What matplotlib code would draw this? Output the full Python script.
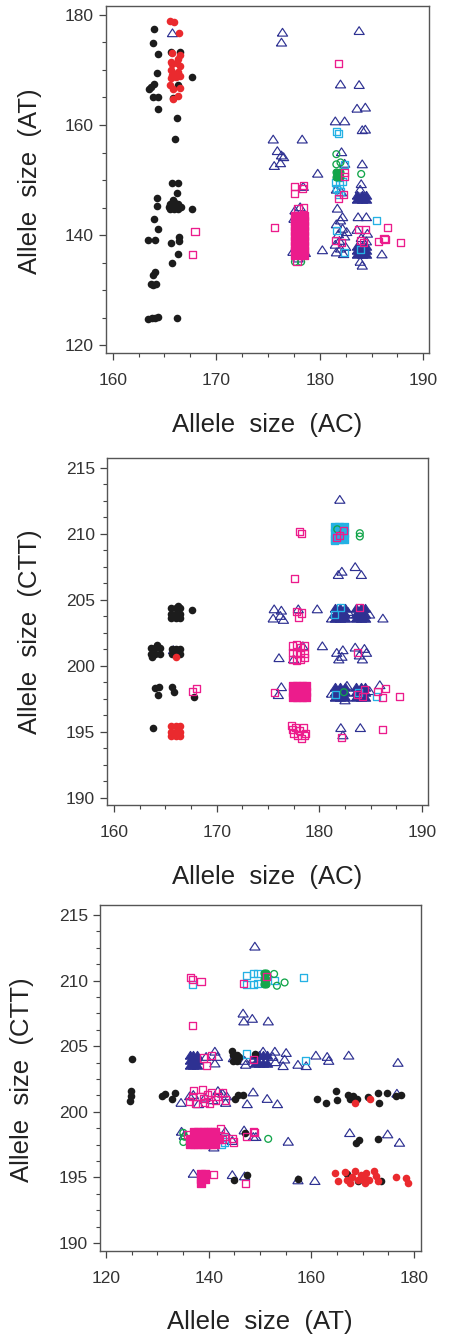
import numpy as np
import matplotlib
matplotlib.use('Agg')
import matplotlib.pyplot as plt
from matplotlib.ticker import MultipleLocator

plt.rcParams['font.family'] = ['Liberation Sans', 'DejaVu Sans']

# ---------------- Panel 1 : AC (x) vs AT (y) ----------------
p1_black = [
    (164.0, 177.5), (163.9, 174.8), (164.4, 172.9), (164.25, 169.4), (163.7, 166.9), (164.0, 167.4),
    (163.5, 166.6), (163.9, 165.0), (164.4, 165.0), (164.4, 162.9), (165.6, 173.3), (166.5, 173.3),
    (166.3, 167.3), (165.8, 164.9), (166.2, 161.2), (166.0, 157.5), (167.7, 168.7),
    (165.7, 149.4), (166.34, 149.4), (166.18, 147.7), (165.86, 146.4), (167.63, 144.7),
    (165.55, 145.6), (165.95, 145.6), (166.35, 145.6), (165.55, 144.7), (165.95, 144.7), (166.35, 144.7),
    (165.45, 145.1), (166.6, 145.1), (165.9, 146.0),
    (164.25, 146.8), (164.25, 145.3), (164.0, 143.0), (164.4, 141.1), (163.44, 139.2), (164.09, 139.1),
    (165.6, 138.6), (166.4, 139.7), (166.4, 139.0), (166.34, 136.55), (165.76, 134.85),
    (164.09, 133.3), (163.93, 132.7), (163.67, 131.1), (164.18, 131.2), (163.9, 130.9),
    (163.45, 124.8), (163.75, 124.9), (164.05, 125.0), (164.35, 125.05), (166.24, 125.0),
]
p1_red = [
    (165.54, 178.8), (165.93, 178.7), (166.41, 176.7), (165.70, 173.0), (166.51, 172.7), (165.60, 171.5),
    (166.18, 171.2), (166.51, 170.7), (165.60, 170.0), (165.93, 169.3), (166.35, 169.7), (166.51, 168.9),
    (165.60, 168.5), (166.10, 168.7), (165.54, 167.3), (166.51, 166.7), (165.86, 166.5), (166.35, 165.3),
    (165.80, 164.7), (165.75, 171.0), (166.3, 172.0), (165.7, 169.0),
]
p1_navy = [
    (165.77, 176.7), (176.4, 176.8), (176.3, 175.0), (183.8, 177.1), (182.0, 167.4), (183.8, 167.3),
    (183.6, 163.0), (184.4, 163.2), (181.5, 160.7), (182.4, 160.7), (184.1, 159.1), (184.4, 159.2),
    (175.5, 157.4), (178.3, 157.4), (175.9, 155.3), (176.3, 154.5), (176.5, 154.2), (175.6, 152.6),
    (176.2, 153.1), (179.8, 151.2), (182.1, 155.1), (182.4, 153.0), (184.1, 152.9), (184.0, 149.3),
    (178.4, 148.8), (181.7, 144.85), (182.2, 143.3), (182.0, 142.7), (183.7, 143.3), (184.5, 143.3),
    (177.6, 144.5), (178.1, 145.1), (180.25, 137.3), (186.0, 136.55), (182.1, 147.8), (181.6, 148.3),
    (181.6, 142.0), (182.2, 141.2), (181.8, 140.2), (182.4, 139.8), (181.5, 138.3), (182.0, 137.6),
    (182.5, 137.9), (181.6, 136.9), (182.3, 136.6), (181.9, 139.0), (182.6, 140.6),
    (183.6, 141.0), (184.6, 140.3), (184.0, 139.5), (184.5, 138.9), (183.9, 135.2), (184.1, 134.5),
    (177.5, 143.0), (178.3, 143.5), (177.4, 137.0), (178.6, 136.8), (177.9, 135.8), (183.9, 148.3),
]
p1_navy_dense = [
    (183.6, 147.3), (184.05, 147.3), (184.5, 147.3), (183.6, 146.6), (184.05, 146.6), (184.5, 146.6),
    (183.6, 138.1), (184.05, 138.1), (184.5, 138.1), (183.6, 137.3), (184.05, 137.3), (184.5, 137.3),
    (183.6, 136.6), (184.05, 136.6), (184.5, 136.6),
]
p1_cyan = [
    (181.6, 158.8), (181.8, 158.5), (182.35, 152.9), (181.5, 149.6), (181.9, 149.2), (182.2, 149.7),
    (181.6, 148.5), (182.0, 148.0), (181.8, 147.4), (185.5, 142.7), (181.6, 140.8), (182.4, 136.85),
    (183.9, 137.4),
]
p1_green = [
    (181.6, 154.7), (181.6, 152.85), (182.0, 153.2), (184.0, 151.1), (177.6, 135.15), (178.2, 135.15),
]
p1_green_dense = [(181.6, 151.5), (182.0, 151.5), (181.6, 150.6), (182.0, 150.6)]
p1_magenta = [
    (181.8, 171.1), (177.6, 148.8), (177.6, 147.6), (178.4, 149.0), (178.3, 148.5), (177.9, 144.85),
    (178.4, 145.0), (175.6, 141.4), (182.4, 151.3), (182.4, 150.6), (182.3, 147.3), (181.8, 146.7),
    (181.5, 139.1), (182.1, 138.6), (183.7, 141.0), (184.4, 141.0), (183.9, 139.1), (184.2, 138.6),
    (186.5, 141.4), (185.7, 138.8), (186.2, 139.4), (186.3, 139.2), (187.8, 138.6),
    (167.95, 140.6), (167.7, 136.5), (177.8, 135.2),
]
p1_magenta_dense = [
    (177.6, 143.4), (178.05, 143.4), (178.5, 143.4), (177.6, 142.5), (178.05, 142.5), (178.5, 142.5),
    (177.6, 141.6), (178.05, 141.6), (178.5, 141.6), (177.6, 140.7), (178.05, 140.7), (178.5, 140.7),
    (177.6, 139.8), (178.05, 139.8), (178.5, 139.8), (177.6, 138.9), (178.05, 138.9), (178.5, 138.9),
    (177.6, 138.0), (178.05, 138.0), (178.5, 138.0), (177.6, 137.1), (178.05, 137.1), (178.5, 137.1),
    (177.6, 136.4), (178.05, 136.4), (178.5, 136.4),
]

# ---------------- Panel 2 : AC (x) vs CTT (y) ----------------
p2_black = [
    (165.55, 204.35), (166.0, 204.35), (166.45, 204.35), (165.55, 203.95), (166.0, 203.95),
    (166.45, 203.95), (165.55, 203.6), (166.0, 203.6), (166.45, 203.6), (166.2, 204.55), (167.6, 204.2),
    (163.55, 201.35), (164.0, 201.35), (164.5, 201.35), (163.55, 200.9), (164.0, 200.9), (164.5, 200.9),
    (164.2, 201.55), (163.7, 200.65),
    (165.6, 201.3), (166.05, 201.3), (166.45, 201.3), (165.6, 200.9), (166.05, 200.9), (166.45, 200.9),
    (164.0, 198.3), (164.4, 198.4), (164.3, 197.8), (165.6, 198.4), (165.8, 198.0), (167.8, 197.6),
    (163.77, 195.3),
]
p2_red = [
    (165.55, 195.4), (166.0, 195.4), (166.45, 195.4), (165.55, 195.0), (166.0, 195.0), (166.45, 195.0),
    (165.55, 194.65), (166.0, 194.65), (166.45, 194.65), (166.04, 200.7),
]
p2_navy = [
    (165.78, 201.2), (182.0, 212.6), (181.85, 206.9), (182.2, 207.15), (183.5, 207.5), (184.1, 206.9),
    (175.6, 204.3), (175.5, 203.6), (176.3, 204.2), (176.5, 203.5), (176.2, 203.8), (177.95, 204.3),
    (179.8, 204.3), (186.2, 203.6), (176.07, 200.6), (180.3, 201.5), (177.5, 200.5), (178.4, 201.5),
    (181.7, 201.0), (182.3, 201.2), (182.2, 200.7), (181.9, 200.5), (183.5, 201.4), (184.4, 201.3),
    (183.9, 200.8), (184.2, 200.5), (184.6, 201.0), (185.9, 198.55), (176.3, 198.4), (176.0, 197.8),
    (182.1, 195.3), (184.0, 195.3), (182.3, 194.75), (182.8, 204.1), (181.2, 203.6), (184.9, 203.9),
    (182.7, 198.5), (181.2, 197.9), (184.9, 198.1), (182.5, 197.4),
]
p2_navy_dense = [
    (181.5, 204.35), (182.0, 204.35), (182.5, 204.35), (181.5, 203.95), (182.0, 203.95), (182.5, 203.95),
    (181.5, 203.6), (182.0, 203.6), (182.5, 203.6),
    (183.6, 204.35), (184.05, 204.35), (184.5, 204.35), (183.6, 203.95), (184.05, 203.95), (184.5, 203.95),
    (183.6, 203.6), (184.05, 203.6), (184.5, 203.6),
    (181.5, 198.4), (182.0, 198.4), (182.5, 198.4), (181.5, 198.0), (182.0, 198.0), (182.5, 198.0),
    (181.5, 197.65), (182.0, 197.65), (182.5, 197.65),
    (183.6, 198.4), (184.05, 198.4), (184.5, 198.4), (183.6, 198.0), (184.05, 198.0), (184.5, 198.0),
    (183.6, 197.65), (184.05, 197.65), (184.5, 197.65),
]
p2_cyan = [(181.5, 203.9), (182.1, 204.4), (181.6, 197.85), (185.6, 197.7), (183.8, 198.0), (181.5, 209.5)]
p2_cyan_dense = [
    (181.5, 210.5), (181.95, 210.5), (182.4, 210.5), (181.5, 210.05), (181.95, 210.05), (182.4, 210.05),
    (181.5, 209.6), (181.95, 209.6), (182.4, 209.6),
]
p2_green = [(183.95, 210.05), (183.95, 209.8), (182.4, 198.0), (181.75, 210.35)]
p2_magenta = [
    (178.1, 210.2), (178.3, 210.05), (182.4, 210.25), (182.0, 209.9), (181.7, 209.7), (177.55, 206.6),
    (177.8, 204.1), (178.3, 204.0), (177.95, 203.7), (183.95, 204.4), (183.7, 201.0), (175.6, 198.0),
    (183.7, 197.8), (184.4, 198.2), (184.2, 197.7), (185.7, 198.05), (186.45, 198.3), (186.2, 197.6),
    (187.8, 197.7), (182.2, 194.6), (186.2, 195.15), (167.6, 198.05), (168.0, 198.3),
    (177.4, 201.5), (177.8, 201.6), (178.2, 201.4), (178.6, 201.5), (177.4, 201.0), (177.8, 200.9),
    (178.2, 201.0), (178.6, 200.9), (177.4, 200.5), (177.8, 200.4), (178.2, 200.5), (178.6, 200.6),
    (177.3, 195.5), (177.7, 195.3), (178.1, 195.1), (178.5, 195.3), (178.7, 194.9), (177.5, 194.9),
    (177.9, 194.7), (178.3, 194.5), (178.6, 194.7), (177.4, 195.2),
]
p2_magenta_dense = [
    (177.4, 198.5), (177.85, 198.5), (178.3, 198.5), (178.7, 198.5),
    (177.4, 198.05), (177.85, 198.05), (178.3, 198.05), (178.7, 198.05),
    (177.4, 197.6), (177.85, 197.6), (178.3, 197.6), (178.7, 197.6),
]

# ---------------- Panel 3 : AT (x) vs CTT (y) ----------------
p3_black = [
    (125.0, 204.05), (124.9, 201.6), (124.8, 201.2), (124.7, 200.8), (130.8, 201.2), (131.5, 201.35),
    (132.8, 200.96), (133.4, 201.47), (145.1, 201.0), (145.75, 201.3), (146.6, 201.3),
    (144.7, 204.35), (145.5, 204.35), (144.7, 203.9), (145.5, 203.9), (146.0, 204.2), (144.5, 204.6),
    (149.0, 204.4), (161.1, 201.0), (162.9, 200.66), (164.75, 201.55), (165.0, 200.9), (167.15, 201.3),
    (167.5, 200.96), (168.9, 201.0), (168.2, 201.2), (171.0, 201.1), (173.0, 201.4), (173.3, 200.66),
    (174.8, 201.4), (177.5, 201.3), (176.6, 201.2), (147.0, 198.4), (168.8, 197.66), (169.4, 197.87),
    (173.0, 197.94), (145.0, 194.8), (147.4, 195.15), (157.45, 194.9), (173.6, 194.75), (138.9, 195.3),
    (167.0, 195.3), (169.2, 194.7),
]
p3_red = [
    (164.55, 195.33), (165.2, 194.7), (166.5, 195.38), (166.95, 194.8), (167.5, 194.57), (168.6, 195.46),
    (169.1, 194.8), (169.7, 195.2), (170.4, 194.57), (170.7, 195.33), (171.2, 194.8), (172.3, 195.46),
    (172.6, 195.08), (173.0, 194.7), (176.55, 195.03), (178.5, 194.95), (178.8, 194.57), (168.6, 200.66),
    (171.4, 201.0), (168.0, 195.0), (169.9, 194.9), (170.2, 195.1),
]
p3_navy = [
    (149.0, 212.6), (146.7, 207.5), (146.85, 206.9), (148.5, 207.1), (151.6, 206.9),
    (139.5, 204.2), (141.2, 204.6), (141.7, 204.2), (141.2, 203.7), (144.8, 204.1), (147.0, 203.9),
    (148.7, 204.05), (150.6, 204.6), (152.9, 204.6), (155.1, 204.5), (154.8, 204.0),
    (154.5, 203.5), (157.4, 203.6), (159.0, 203.5), (160.9, 204.3), (163.1, 204.2), (163.4, 203.9),
    (167.3, 204.3), (176.9, 203.75), (147.2, 203.6), (153.0, 203.8), (152.5, 204.2),
    (134.6, 200.7), (137.0, 201.3), (139.3, 201.1), (142.7, 201.4), (143.3, 200.7), (140.8, 200.9),
    (148.66, 201.5), (147.5, 200.6), (151.4, 201.0), (153.4, 200.6), (176.7, 201.4), (138.0, 200.6),
    (141.8, 201.6), (136.3, 201.2), (143.5, 201.2),
    (134.7, 198.5), (135.2, 198.2), (143.2, 198.5), (146.9, 198.6), (148.7, 198.1), (149.2, 198.1),
    (155.5, 197.74), (167.5, 198.4), (174.9, 198.3), (177.2, 197.66), (144.6, 197.8), (141.0, 197.3),
    (137.0, 195.3), (144.6, 195.2), (147.0, 195.1), (157.4, 194.8), (160.7, 194.75),
]
p3_navy_dense = [
    (136.3, 204.35), (137.0, 204.35), (137.7, 204.35), (136.3, 203.95), (137.0, 203.95), (137.7, 203.95),
    (136.3, 203.6), (137.0, 203.6), (137.7, 203.6),
    (149.0, 204.3), (149.8, 204.3), (150.6, 204.3), (151.4, 204.3),
    (149.0, 203.7), (149.8, 203.7), (150.6, 203.7), (151.4, 203.7),
]
p3_cyan = [
    (136.8, 209.7), (147.4, 210.4), (148.7, 210.55), (149.6, 210.5), (147.4, 209.7), (148.8, 209.7),
    (149.5, 209.8), (152.9, 210.0), (158.5, 210.25), (147.4, 204.4), (158.9, 203.9), (143.1, 197.7),
    (142.5, 197.5),
]
p3_green = [(152.75, 210.5), (153.3, 209.6), (154.8, 209.85), (151.6, 197.94), (135.05, 198.4),
            (135.05, 197.7), (135.3, 198.1)]
p3_green_dense = [(150.7, 210.55), (151.2, 210.55), (150.7, 210.15), (151.2, 210.15),
                  (150.7, 209.75), (151.2, 209.75)]
p3_magenta = [
    (136.5, 210.25), (136.9, 210.1), (138.5, 209.9), (146.7, 209.75), (151.26, 210.3), (136.8, 206.6),
    (139.0, 204.1), (139.5, 203.5), (140.6, 204.3), (148.7, 204.0), (148.8, 198.5), (147.4, 198.1),
    (149.0, 198.4), (143.15, 198.1), (144.6, 198.0), (144.8, 197.7), (140.9, 195.2), (147.1, 194.57),
    (136.3, 200.8), (137.0, 201.6), (137.5, 200.6), (138.3, 201.2), (138.7, 201.7), (139.1, 200.7),
    (139.7, 201.3), (140.2, 200.6), (140.6, 201.5), (141.3, 200.9), (141.7, 201.2), (142.6, 201.5),
    (143.2, 200.9), (136.8, 201.2), (139.0, 201.0), (135.9, 198.3), (142.6, 197.9), (142.3, 198.7),
]
p3_magenta_dense = [
    (137.2, 198.45), (138.0, 198.45), (138.8, 198.45), (139.6, 198.45), (140.4, 198.45),
    (141.2, 198.45),
    (136.4, 197.95), (137.2, 197.95), (138.0, 197.95), (138.8, 197.95), (139.6, 197.95), (140.4, 197.95),
    (141.2, 197.95), (142.0, 197.95),
    (136.4, 197.55), (137.2, 197.55), (138.0, 197.55), (138.8, 197.55), (139.6, 197.55), (140.4, 197.55),
    (141.2, 197.55),
    (138.5, 195.3), (139.3, 195.3), (138.5, 194.9), (139.3, 194.9), (138.5, 194.6),
]

# ---------------- styling ----------------
COL = {'black': '#1c1c1c', 'red': '#ea2a2e', 'navy': '#2e3192',
       'magenta': '#ec1c8c', 'cyan': '#25b1e4', 'green': '#12a54a'}
TRI = [(-1, -0.72), (1, -0.72), (0, 0.8), (-1, -0.72)]


def draw(ax, pts, kind, filled=False):
    a = np.array(pts, dtype=float)
    c = COL[kind]
    if kind in ('black', 'red'):
        ax.scatter(a[:, 0], a[:, 1], s=30, marker='o', c=c, linewidths=0, zorder=3)
    elif kind == 'navy':
        ax.scatter(a[:, 0], a[:, 1], s=54, marker=TRI, facecolors=c if filled else 'none',
                   edgecolors=c, linewidths=0.85, zorder=2)
    elif kind == 'green':
        ax.scatter(a[:, 0], a[:, 1], s=24, marker='o', facecolors=c if filled else 'none',
                   edgecolors=c, linewidths=0.95, zorder=4)
    else:
        z = 4 if kind == 'cyan' else 5
        ax.scatter(a[:, 0], a[:, 1], s=26, marker='s', facecolors=c if filled else 'none',
                   edgecolors=c, linewidths=0.95, zorder=z)


def setup(ax, xlim, ylim, xmaj, xmin, ymaj, ymin):
    ax.set_xlim(*xlim)
    ax.set_ylim(*ylim)
    ax.xaxis.set_major_locator(MultipleLocator(xmaj))
    ax.xaxis.set_minor_locator(MultipleLocator(xmin))
    ax.yaxis.set_major_locator(MultipleLocator(ymaj))
    ax.yaxis.set_minor_locator(MultipleLocator(ymin))
    ax.tick_params(which='major', length=5.2, width=0.9, color='#444444', labelsize=12.5,
                   labelcolor='#333333', direction='out')
    ax.tick_params(which='minor', length=2.8, width=0.8, color='#444444', direction='out')
    ax.tick_params(axis='x', which='major', pad=9)
    ax.tick_params(axis='y', which='major', pad=3.5)
    for s in ax.spines.values():
        s.set_color('#555555')
        s.set_linewidth(1.0)


W, H = 453, 1338
fig = plt.figure(figsize=(W / 100, H / 100), dpi=100)


def add_axes(left, top, right, bottom):
    return fig.add_axes([left / W, 1 - bottom / H, (right - left) / W, (bottom - top) / H])


ax1 = add_axes(106, 6, 429, 353)
ax2 = add_axes(107, 458, 428, 805)
ax3 = add_axes(100, 905, 421, 1251)

panels = [
    (ax1, p1_navy, p1_navy_dense, p1_black, p1_red, p1_cyan, None, p1_green, p1_green_dense,
     p1_magenta, p1_magenta_dense),
    (ax2, p2_navy, p2_navy_dense, p2_black, p2_red, p2_cyan, p2_cyan_dense, p2_green, None,
     p2_magenta, p2_magenta_dense),
    (ax3, p3_navy, p3_navy_dense, p3_black, p3_red, p3_cyan, None, p3_green, p3_green_dense,
     p3_magenta, p3_magenta_dense),
]
for (ax, nv, nvd, bk, rd, cy, cyd, gr, grd, mg, mgd) in panels:
    draw(ax, nv, 'navy')
    draw(ax, nvd, 'navy', filled=True)
    draw(ax, bk, 'black')
    draw(ax, rd, 'red')
    draw(ax, cy, 'cyan')
    if cyd is not None:
        draw(ax, cyd, 'cyan', filled=True)
    draw(ax, gr, 'green')
    if grd is not None:
        draw(ax, grd, 'green', filled=True)
    draw(ax, mg, 'magenta')
    draw(ax, mgd, 'magenta', filled=True)

setup(ax1, (159.35, 190.55), (118.6, 181.6), 10, 2.5, 20, 5)
setup(ax2, (159.3, 190.6), (189.45, 215.75), 10, 2.5, 5, 1.25)
setup(ax3, (118.8, 181.4), (189.4, 215.75), 20, 5, 5, 1.25)

lab = dict(fontsize=18.5, color='#222222', ha='center', va='center')
fig.text(267.5 / W, 1 - 425 / H, 'Allele  size  (AC)', **lab)
fig.text(30 / W, 1 - 181 / H, 'Allele  size  (AT)', rotation=90, **lab)
fig.text(267.5 / W, 1 - 877 / H, 'Allele  size  (AC)', **lab)
fig.text(30 / W, 1 - 632 / H, 'Allele  size  (CTT)', rotation=90, **lab)
fig.text(260 / W, 1 - 1322 / H, 'Allele  size  (AT)', **lab)
fig.text(22 / W, 1 - 1080 / H, 'Allele  size  (CTT)', rotation=90, **lab)

fig.savefig('out.png', dpi=100)
